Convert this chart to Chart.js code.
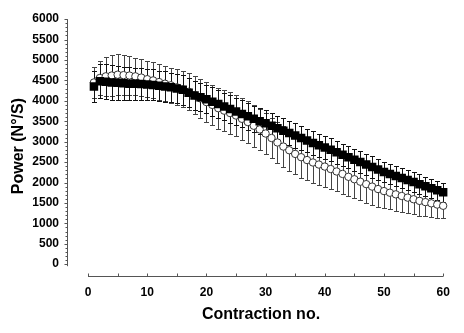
<!DOCTYPE html>
<html>
<head>
<meta charset="utf-8">
<script src="https://cdn.jsdelivr.net/npm/chart.js@4.4.1/dist/chart.umd.min.js"></script>
<style>
    html, body { margin: 0; padding: 0; background: #fff; }
    #wrap { width: 464px; height: 333px; position: relative; }
</style>
</head>
<body>
<div id="wrap"><canvas id="powerChart"></canvas></div>
<script>
const contractions = [
    1, 2, 3, 4, 5, 6, 7, 8, 9, 10, 11, 12, 13, 14, 15, 16, 17, 18, 19, 20,
    21, 22, 23, 24, 25, 26, 27, 28, 29, 30, 31, 32, 33, 34, 35, 36, 37, 38, 39, 40,
    41, 42, 43, 44, 45, 46, 47, 48, 49, 50, 51, 52, 53, 54, 55, 56, 57, 58, 59, 60
];

// filled squares
const powerFilled = [
    4350, 4480, 4470, 4450, 4440, 4430, 4420, 4420, 4410, 4400,
    4390, 4370, 4350, 4330, 4300, 4270, 4200, 4130, 4090, 4040,
    3980, 3920, 3860, 3800, 3740, 3680, 3620, 3560, 3500, 3450,
    3390, 3330, 3270, 3210, 3150, 3090, 3030, 2970, 2910, 2860,
    2800, 2740, 2680, 2620, 2560, 2500, 2440, 2380, 2320, 2260,
    2210, 2160, 2110, 2060, 2010, 1960, 1910, 1860, 1810, 1760
];
const sdFilled = [
    380, 420, 430, 420, 410, 400, 400, 390, 390, 380,
    380, 370, 370, 360, 360, 360, 350, 350, 350, 350,
    350, 340, 340, 340, 330, 330, 330, 320, 320, 320,
    310, 310, 310, 300, 300, 300, 290, 290, 290, 280,
    280, 280, 270, 270, 270, 260, 260, 260, 250, 250,
    250, 250, 240, 240, 240, 240, 230, 230, 230, 230
];

// open circles
const powerOpen = [
    4450, 4560, 4600, 4620, 4640, 4630, 4620, 4600, 4570, 4530,
    4500, 4460, 4420, 4380, 4330, 4280, 4220, 4140, 4060, 3970,
    3900, 3820, 3760, 3700, 3640, 3560, 3480, 3390, 3300, 3200,
    3090, 2980, 2880, 2790, 2700, 2620, 2550, 2490, 2440, 2390,
    2330, 2270, 2210, 2140, 2080, 2020, 1960, 1900, 1840, 1790,
    1750, 1710, 1670, 1630, 1590, 1550, 1520, 1490, 1460, 1430
];
const sdOpen = [
    380, 420, 480, 500, 500, 490, 470, 460, 450, 440,
    440, 430, 430, 430, 440, 440, 450, 460, 470, 480,
    490, 500, 500, 510, 510, 510, 510, 510, 500, 500,
    500, 500, 500, 500, 500, 500, 500, 500, 490, 490,
    490, 480, 480, 470, 470, 460, 450, 440, 430, 420,
    410, 400, 390, 380, 370, 360, 350, 340, 320, 300
];

const yTickValues = [0, 500, 1000, 1500, 2000, 2500, 3000, 3500, 4000, 4500, 5000, 5500, 6000];
const xTickValues = [0, 10, 20, 30, 40, 50, 60];

const toPoints = (vals) => vals.map((v, i) => ({ x: contractions[i], y: v }));

// error bars, drawn under the markers
const errorBars = {
    id: 'errorBars',
    beforeDatasetsDraw(chart) {
        const { ctx, scales: { x, y } } = chart;
        const sets = chart.data.datasets;
        for (let d = sets.length - 1; d >= 0; d--) {
            const ds = sets[d];
            ctx.save();
            ctx.strokeStyle = ds.errorColor;
            ctx.lineWidth = 1;
            ctx.beginPath();
            ds.data.forEach((pt, j) => {
                const px = Math.round(x.getPixelForValue(pt.x)) + 0.5;
                const top = Math.round(y.getPixelForValue(pt.y + ds.errors[j])) + 0.5;
                const bot = Math.round(y.getPixelForValue(pt.y - ds.errors[j])) + 0.5;
                ctx.moveTo(px, top); ctx.lineTo(px, bot);
                ctx.moveTo(px - 2.5, top); ctx.lineTo(px + 2.5, top);
                ctx.moveTo(px - 2.5, bot); ctx.lineTo(px + 2.5, bot);
            });
            ctx.stroke();
            ctx.restore();
        }
    }
};

// detached axis lines with minor ticks
const looseAxes = {
    id: 'looseAxes',
    afterDraw(chart) {
        const { ctx, chartArea, scales: { x, y } } = chart;
        ctx.save();
        ctx.strokeStyle = '#555';
        ctx.lineWidth = 1;
        ctx.beginPath();
        const ax = Math.round(chartArea.left) + 0.5;
        ctx.moveTo(ax, y.getPixelForValue(6000));
        ctx.lineTo(ax, y.getPixelForValue(0) + 2);
        for (let v = 0; v <= 6000; v += 100) {
            const py = Math.round(y.getPixelForValue(v)) + 0.5;
            ctx.moveTo(ax, py);
            ctx.lineTo(ax - (v % 500 === 0 ? 3 : 2), py);
        }
        const ay = Math.round(chartArea.bottom) - 0.5;
        ctx.moveTo(x.getPixelForValue(0), ay);
        ctx.lineTo(x.getPixelForValue(60), ay);
        for (let v = 0; v <= 60; v += 5) {
            const px = Math.round(x.getPixelForValue(v)) + 0.5;
            ctx.moveTo(px, ay);
            ctx.lineTo(px, ay - 3);
        }
        ctx.stroke();
        ctx.restore();
    }
};

new Chart(document.getElementById('powerChart'), {
    type: 'scatter',
    data: {
        datasets: [
            {
                label: 'filled',
                data: toPoints(powerFilled),
                errors: sdFilled,
                errorColor: '#111',
                pointStyle: 'rect',
                pointRadius: 6,
                backgroundColor: '#000',
                borderColor: '#000',
                borderWidth: 0
            },
            {
                label: 'open',
                data: toPoints(powerOpen),
                errors: sdOpen,
                errorColor: '#444',
                pointStyle: 'circle',
                pointRadius: 3.7,
                backgroundColor: '#fff',
                borderColor: '#333',
                borderWidth: 1
            }
        ]
    },
    options: {
        responsive: true,
        maintainAspectRatio: false,
        animation: false,
        layout: { padding: { left: 0, top: 12, right: 9, bottom: 0 } },
        plugins: { legend: { display: false }, tooltip: { enabled: false } },
        scales: {
            x: {
                type: 'linear',
                min: -3.55,
                max: 62,
                grid: { display: false, drawTicks: false },
                border: { display: false },
                afterBuildTicks: (axis) => { axis.ticks = xTickValues.map(v => ({ value: v })); },
                afterFit: (axis) => { axis.height = 56; },
                ticks: {
                    autoSkip: false,
                    maxRotation: 0,
                    padding: 8,
                    color: '#000',
                    callback: (v) => String(v),
                    font: { family: 'Liberation Sans', size: 12, weight: 'bold' }
                },
                title: {
                    display: true,
                    text: 'Contraction no.',
                    color: '#000',
                    padding: 9,
                    font: { family: 'Liberation Sans', size: 16, weight: 'bold' }
                }
            },
            y: {
                min: -314,
                max: 6097,
                grid: { display: false, drawTicks: false },
                border: { display: false },
                afterBuildTicks: (axis) => { axis.ticks = yTickValues.map(v => ({ value: v })); },
                afterFit: (axis) => { axis.width = 67; },
                ticks: {
                    autoSkip: false,
                    padding: 8,
                    color: '#000',
                    callback: (v) => String(v),
                    font: { family: 'Liberation Sans', size: 12, weight: 'bold' }
                },
                title: {
                    display: true,
                    text: 'Power (N°/S)',
                    color: '#000',
                    padding: 9,
                    font: { family: 'Liberation Sans', size: 16, weight: 'bold' }
                }
            }
        }
    },
    plugins: [errorBars, looseAxes]
});
</script>
</body>
</html>
